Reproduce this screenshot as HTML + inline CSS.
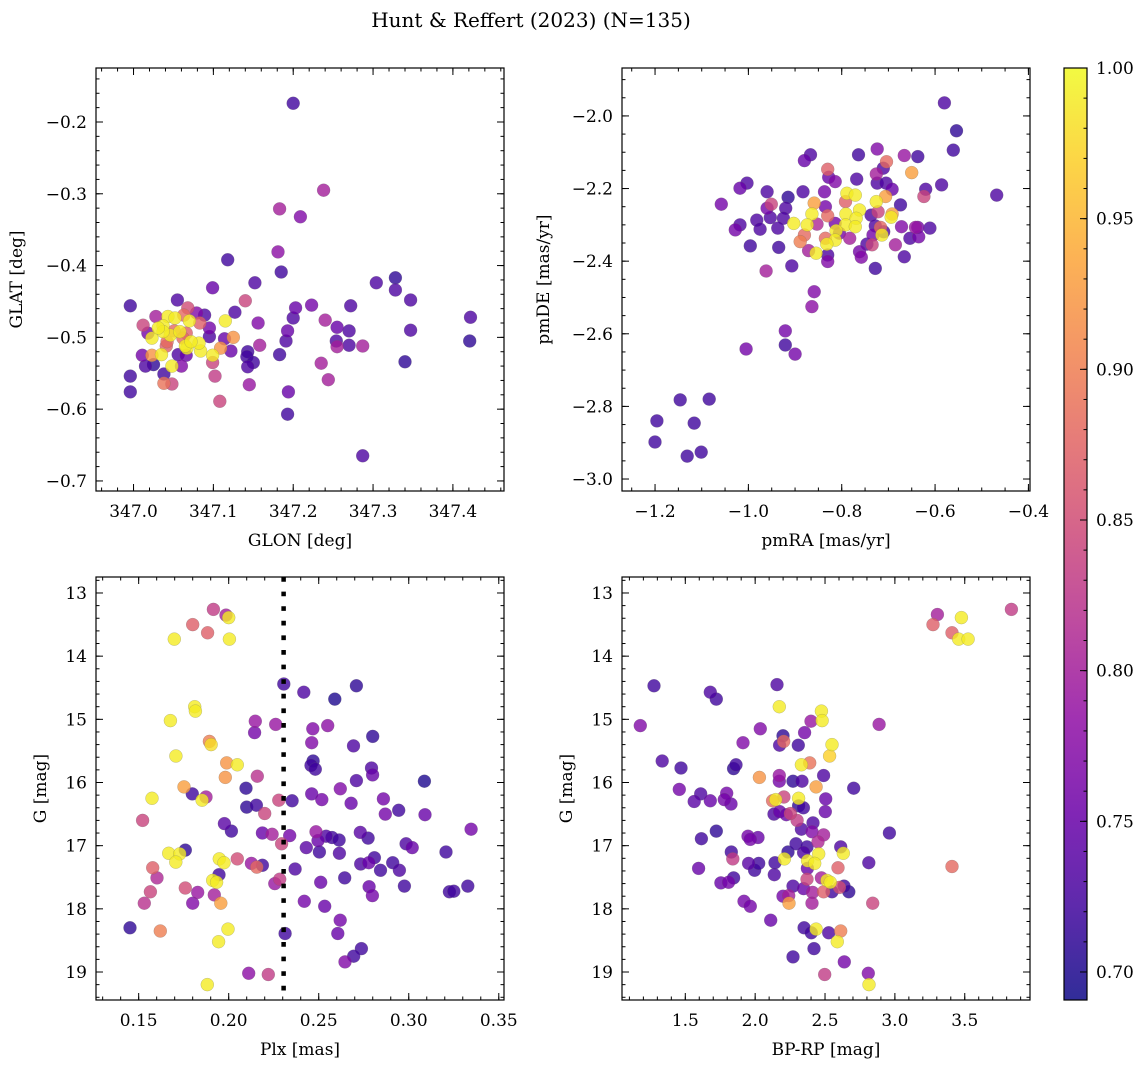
<!DOCTYPE html>
<html><head><meta charset="utf-8"><style>
html,body{margin:0;padding:0;background:#fff}
svg{display:block;font-family:"DejaVu Serif","Liberation Serif",serif}
</style></head><body>
<svg id="fig" width="1148" height="1068" viewBox="0 0 1148 1068" xmlns="http://www.w3.org/2000/svg">
<rect width="1148" height="1068" fill="#fff"/>
<text x="531" y="27" font-size="20" text-anchor="middle">Hunt &amp; Reffert (2023) (N=135)</text>
<defs><linearGradient id="cbgrad" x1="0" y1="1" x2="0" y2="0"></linearGradient></defs>
</svg>
<script>
// ---------- data ----------
const glon1=[347.200,347.183,347.209,347.238,347.181,347.118,347.185,347.152,347.099,347.140,347.055,346.996,347.156,347.127,347.203,347.200,347.193,347.191,347.183,347.158,347.143,347.142,347.143,347.150,347.145,347.194,347.193,347.102,347.108,347.099,347.099,347.109,347.125,347.115,347.122,347.114,346.996,346.996,347.038,347.038,347.048,347.048,347.060,347.015,347.025,347.011,347.023,347.035,347.066,347.084,347.082,347.067,347.056,347.012,347.028,347.023,347.041,347.043,347.052,347.037,347.046,347.058,347.066,347.068,347.063,347.070,347.083,347.089,347.095,347.095,347.079,347.037,347.051,347.062,347.031,347.018,347.042,347.065,347.072,347.223,347.240,347.255,347.254,347.255,347.235,347.244,347.270,347.270,347.272,347.287,347.304,347.328,347.328,347.347,347.347,347.340,347.422,347.421,347.287];
const glat1=[-0.174,-0.321,-0.332,-0.295,-0.381,-0.392,-0.409,-0.424,-0.431,-0.449,-0.448,-0.456,-0.480,-0.465,-0.459,-0.473,-0.491,-0.505,-0.524,-0.511,-0.520,-0.527,-0.541,-0.535,-0.566,-0.576,-0.607,-0.554,-0.589,-0.525,-0.535,-0.515,-0.500,-0.477,-0.519,-0.502,-0.554,-0.576,-0.551,-0.564,-0.565,-0.540,-0.540,-0.540,-0.538,-0.525,-0.525,-0.524,-0.525,-0.519,-0.508,-0.515,-0.524,-0.483,-0.471,-0.501,-0.512,-0.471,-0.473,-0.484,-0.497,-0.492,-0.494,-0.459,-0.469,-0.477,-0.480,-0.469,-0.487,-0.499,-0.466,-0.492,-0.491,-0.501,-0.487,-0.494,-0.506,-0.512,-0.506,-0.455,-0.476,-0.486,-0.505,-0.513,-0.536,-0.559,-0.511,-0.491,-0.456,-0.512,-0.424,-0.417,-0.434,-0.448,-0.490,-0.534,-0.472,-0.505,-0.665];
const prob1=[.72,.80,.77,.80,.78,.72,.72,.73,.75,.84,.73,.72,.77,.73,.75,.73,.75,.73,.72,.80,.72,.72,.73,.72,.79,.75,.72,.83,.84,.99,.84,.92,.92,.99,.75,.75,.72,.72,.72,.89,.84,.99,.77,.73,.71,.76,.92,.99,.75,.99,.99,.99,.73,.84,.80,.99,.87,.99,.99,.99,.99,.99,.87,.85,.88,.99,.87,.73,.76,.73,.77,.99,.88,.88,.99,.76,.88,.99,.99,.76,.80,.75,.73,.80,.80,.80,.73,.73,.73,.80,.73,.71,.73,.73,.73,.71,.73,.71,.73];

const pmra2=[-0.580,-0.554,-0.561,-0.586,-0.468,-0.867,-0.880,-0.764,-0.724,-0.666,-0.637,-0.704,-0.711,-0.726,-0.650,-0.830,-0.828,-0.814,-0.768,-0.724,-0.705,-0.692,-0.706,-0.674,-0.624,-0.620,-1.003,-1.018,-0.960,-0.915,-0.883,-0.837,-0.789,-0.771,-0.792,-0.726,-0.859,-1.058,-0.951,-0.960,-0.920,-0.835,-0.864,-0.830,-0.791,-0.762,-0.769,-0.722,-0.692,-0.694,-0.737,-0.953,-0.925,-0.982,-0.903,-0.874,-0.853,-0.814,-0.792,-0.771,-0.728,-0.717,-0.672,-0.642,-0.637,-0.611,-1.018,-1.028,-0.975,-0.937,-0.812,-0.805,-0.880,-0.889,-0.835,-0.814,-0.832,-0.783,-0.733,-0.714,-0.710,-0.735,-0.746,-0.685,-0.654,-0.635,-0.996,-0.935,-0.871,-0.855,-0.830,-0.830,-0.762,-0.758,-0.666,-0.907,-0.728,-0.962,-0.859,-0.864,-0.921,-0.921,-0.900,-1.005,-1.146,-1.084,-1.196,-1.116,-1.200,-1.131,-1.101];
const pmde2=[-1.964,-2.041,-2.094,-2.190,-2.218,-2.107,-2.123,-2.107,-2.091,-2.109,-2.112,-2.126,-2.144,-2.160,-2.156,-2.147,-2.169,-2.181,-2.174,-2.185,-2.185,-2.202,-2.222,-2.245,-2.222,-2.202,-2.185,-2.199,-2.209,-2.224,-2.209,-2.209,-2.213,-2.218,-2.236,-2.236,-2.240,-2.243,-2.243,-2.254,-2.254,-2.250,-2.270,-2.275,-2.270,-2.259,-2.282,-2.264,-2.270,-2.279,-2.273,-2.280,-2.282,-2.287,-2.296,-2.300,-2.298,-2.296,-2.300,-2.305,-2.303,-2.307,-2.305,-2.307,-2.307,-2.309,-2.300,-2.314,-2.312,-2.309,-2.316,-2.323,-2.328,-2.346,-2.337,-2.342,-2.353,-2.337,-2.328,-2.328,-2.319,-2.355,-2.353,-2.355,-2.337,-2.333,-2.358,-2.362,-2.371,-2.378,-2.383,-2.401,-2.374,-2.389,-2.388,-2.413,-2.420,-2.427,-2.484,-2.525,-2.592,-2.631,-2.656,-2.642,-2.782,-2.780,-2.840,-2.846,-2.898,-2.937,-2.926];
const prob2=[.73,.71,.72,.73,.73,.73,.75,.72,.77,.79,.72,.88,.73,.80,.93,.87,.75,.77,.73,.73,.73,.75,.93,.72,.84,.73,.73,.75,.73,.71,.73,.76,.99,.99,.87,.99,.93,.76,.84,.76,.73,.76,.99,.88,.99,.99,.99,.84,.93,.99,.73,.73,.73,.73,.99,.99,.81,.76,.99,.99,.73,.88,.77,.79,.76,.73,.73,.76,.73,.73,.99,.76,.88,.90,.88,.99,.99,.80,.76,.99,.73,.84,.73,.80,.73,.76,.72,.72,.80,.99,.73,.77,.76,.77,.73,.73,.72,.80,.77,.78,.76,.72,.76,.76,.72,.72,.72,.72,.72,.72,.72];

const plx3=[0.1915,0.1985,0.2000,0.180,0.1883,0.1698,0.2004,0.2306,0.2417,0.2709,0.2589,0.1811,0.1815,0.1676,0.2148,0.2144,0.2261,0.2467,0.255,0.280,0.2461,0.2693,0.1893,0.1902,0.1707,0.1989,0.2048,0.2469,0.2457,0.2481,0.2793,0.2799,0.1981,0.2159,0.2709,0.3087,0.1752,0.1798,0.1874,0.1852,0.2096,0.262,0.2461,0.2517,0.2278,0.2352,0.1574,0.210,0.2154,0.268,0.2859,0.2944,0.287,0.309,0.2200,0.1522,0.1976,0.2015,0.2187,0.2241,0.2339,0.2485,0.2496,0.2541,0.2574,0.2613,0.2731,0.2774,0.3346,0.2294,0.2431,0.2504,0.2615,0.2985,0.3019,0.3207,0.1759,0.1667,0.1728,0.1706,0.1948,0.1974,0.2048,0.2126,0.2187,0.2156,0.1578,0.1602,0.2369,0.2733,0.2778,0.2809,0.2843,0.2911,0.2948,0.1946,0.1911,0.1933,0.2283,0.2256,0.2511,0.2644,0.278,0.2798,0.2976,0.3226,0.325,0.3328,0.1759,0.1828,0.192,0.1565,0.1531,0.18,0.1956,0.242,0.2533,0.1452,0.162,0.1996,0.1944,0.2313,0.2619,0.2606,0.2737,0.2694,0.2646,0.2111,0.222,0.1881];
const gmag3=[13.26,13.35,13.39,13.50,13.63,13.73,13.73,14.44,14.57,14.47,14.68,14.80,14.87,15.02,15.03,15.21,15.08,15.15,15.10,15.27,15.37,15.42,15.35,15.40,15.58,15.69,15.72,15.66,15.73,15.79,15.77,15.88,15.92,15.90,15.97,15.98,16.07,16.18,16.23,16.28,16.09,16.10,16.18,16.27,16.28,16.29,16.25,16.39,16.36,16.33,16.26,16.44,16.50,16.51,16.49,16.60,16.65,16.77,16.80,16.82,16.84,16.78,16.92,16.85,16.87,16.91,16.79,16.88,16.74,16.97,17.03,17.10,17.12,16.97,17.03,17.10,17.07,17.12,17.13,17.26,17.21,17.27,17.21,17.28,17.31,17.34,17.35,17.51,17.37,17.29,17.27,17.19,17.39,17.27,17.39,17.46,17.55,17.58,17.53,17.60,17.58,17.51,17.65,17.79,17.64,17.73,17.72,17.64,17.67,17.74,17.78,17.73,17.91,17.91,17.91,17.88,17.96,18.30,18.35,18.32,18.52,18.39,18.18,18.39,18.63,18.75,18.84,19.02,19.04,19.20];
const prob3=[.83,.80,.99,.87,.87,.99,.99,.72,.73,.71,.70,.99,.99,.99,.79,.76,.79,.77,.78,.71,.77,.73,.90,.98,.99,.92,.99,.71,.72,.72,.73,.75,.92,.82,.73,.70,.93,.72,.80,.99,.71,.77,.75,.76,.84,.72,.99,.71,.72,.75,.76,.72,.76,.75,.84,.84,.74,.72,.75,.80,.76,.79,.75,.73,.72,.72,.74,.72,.76,.84,.74,.72,.73,.73,.75,.72,.71,.99,.99,.99,.99,.99,.85,.79,.72,.88,.87,.81,.73,.73,.75,.72,.72,.72,.73,.72,.99,.99,.83,.79,.75,.72,.75,.76,.72,.72,.72,.72,.85,.79,.80,.84,.82,.77,.93,.76,.75,.71,.90,.99,.99,.72,.76,.75,.72,.72,.77,.78,.83,.99];
const plxCut=0.2305;

const bprp4=[3.304,3.476,3.834,3.273,3.409,3.457,3.524,1.276,2.156,1.679,1.722,2.173,2.474,2.479,1.178,2.40,2.037,2.354,2.887,2.199,2.175,2.204,2.309,1.913,2.55,2.533,2.331,2.39,1.335,1.469,1.846,1.863,2.03,2.173,2.173,2.271,2.335,2.49,2.436,2.705,1.457,1.61,1.564,1.679,1.796,1.779,1.827,2.125,2.147,2.206,2.311,2.311,2.345,2.505,2.502,2.135,2.175,2.223,2.252,2.30,2.414,2.331,2.407,2.49,2.45,2.961,1.615,1.722,1.949,1.965,2.02,2.292,2.235,2.347,2.371,2.455,2.612,2.631,1.829,1.84,1.595,1.953,1.996,2.025,2.142,2.209,2.375,2.426,2.374,2.593,2.813,3.409,2.137,2.371,2.474,2.514,2.538,1.846,1.755,1.81,2.271,2.347,2.411,2.49,2.55,2.603,2.636,2.67,2.199,2.24,2.242,2.407,2.841,1.92,1.965,2.111,2.35,2.402,2.436,2.526,2.612,2.588,2.421,2.271,2.638,2.498,2.81,2.815];
const gmag4=[13.34,13.39,13.26,13.50,13.63,13.73,13.73,14.47,14.45,14.57,14.68,14.80,14.87,15.02,15.10,15.03,15.15,15.21,15.08,15.26,15.41,15.35,15.41,15.37,15.40,15.58,15.72,15.69,15.66,15.77,15.78,15.72,15.92,15.89,15.98,15.98,15.98,15.89,16.07,16.09,16.11,16.18,16.30,16.29,16.17,16.27,16.34,16.29,16.27,16.23,16.25,16.37,16.40,16.26,16.46,16.50,16.46,16.51,16.49,16.60,16.64,16.74,16.78,16.83,16.94,16.80,16.89,16.77,16.85,16.90,16.87,16.97,17.10,17.11,17.02,17.13,17.02,17.12,17.10,17.21,17.36,17.28,17.39,17.28,17.27,17.21,17.24,17.28,17.36,17.35,17.27,17.33,17.46,17.53,17.51,17.55,17.58,17.51,17.59,17.58,17.64,17.68,17.74,17.73,17.73,17.66,17.64,17.73,17.80,17.79,17.91,17.91,17.91,17.88,17.96,18.18,18.30,18.38,18.32,18.38,18.35,18.52,18.63,18.76,18.84,19.04,19.02,19.20];
const prob4=[.80,.99,.83,.87,.87,.99,.99,.72,.73,.73,.72,.99,.99,.99,.77,.79,.77,.76,.79,.71,.73,.88,.72,.77,.99,.97,.99,.89,.73,.72,.71,.72,.92,.79,.76,.71,.73,.73,.93,.72,.76,.73,.74,.75,.76,.76,.75,.88,.99,.84,.99,.71,.72,.75,.75,.73,.75,.75,.84,.83,.73,.73,.77,.80,.81,.72,.72,.71,.76,.76,.75,.72,.71,.73,.72,.99,.73,.99,.72,.83,.75,.74,.72,.72,.72,.99,.99,.99,.75,.87,.73,.88,.73,.84,.80,.99,.99,.72,.75,.76,.73,.75,.80,.87,.72,.85,.72,.71,.76,.80,.93,.80,.84,.76,.76,.75,.72,.72,.99,.73,.90,.99,.72,.72,.76,.83,.77,.99];

const cbTicks=[0.70,0.75,0.80,0.85,0.90,0.95,1.00];
const vmin=0.6907, vmax=1.0;

// ---------- helpers ----------
const NS='http://www.w3.org/2000/svg';
const svg=document.getElementById('fig');
function mk(tag,attrs,parent){const e=document.createElementNS(NS,tag);for(const k in attrs)e.setAttribute(k,attrs[k]);(parent||svg).appendChild(e);return e;}
const stops=[[0,13,8,135],[.1,65,4,157],[.2,106,0,168],[.3,143,13,164],[.4,177,42,144],[.5,204,71,120],[.6,225,100,98],[.7,242,132,75],[.8,252,166,54],[.9,252,206,37],[1,240,249,33]];
function plasma(t){t=Math.max(0,Math.min(1,t));for(let i=1;i<stops.length;i++){if(t<=stops[i][0]){const a=stops[i-1],b=stops[i],f=(t-a[0])/(b[0]-a[0]);return `rgb(${Math.round(a[1]+f*(b[1]-a[1]))},${Math.round(a[2]+f*(b[2]-a[2]))},${Math.round(a[3]+f*(b[3]-a[3]))})`;}}return 'rgb(240,249,33)';}
function fmt(v,d){return (v<0?'\u2212':'')+Math.abs(v).toFixed(d);}
function rng(a,b,s){const r=[];const n=Math.round((b-a)/s);for(let i=0;i<=n;i++)r.push(+(a+i*s).toFixed(6));return r;}

function panel(c){
  const g=mk('g',{});
  
  
  const sx=v=>c.x0+(v-c.xd[0])/(c.xd[1]-c.xd[0])*(c.x1-c.x0);
  const sy=c.yinv?(v=>c.y0+(v-c.yd[0])/(c.yd[1]-c.yd[0])*(c.y1-c.y0)):(v=>c.y1-(v-c.yd[0])/(c.yd[1]-c.yd[0])*(c.y1-c.y0));
  const idx=[];const n=Math.min(c.xs.length,c.ys.length,c.ps.length);for(let i=0;i<n;i++)idx.push(i);
  idx.sort((a,b)=>c.ps[a]-c.ps[b]);
  const pg=mk('g',{},g);
  
  
  idx.forEach(i=>{const t=(c.ps[i]-vmin)/(vmax-vmin);
    const p=mk('circle',{cx:sx(c.xs[i]).toFixed(1),cy:sy(c.ys[i]).toFixed(1),r:6.5,fill:plasma(t),'fill-opacity':0.8,stroke:'#666','stroke-opacity':0.5,'stroke-width':0.4},pg);
    
    });
  if(c.vline!==undefined){const l=mk('line',{x1:sx(c.vline),x2:sx(c.vline),y1:c.y0,y2:c.y1,stroke:'#000','stroke-width':4.5,'stroke-dasharray':'4.7 9.9'},g);
    
    }
  const f=mk('rect',{x:c.x0,y:c.y0,width:c.x1-c.x0,height:c.y1-c.y0,fill:'none',stroke:'#000','stroke-width':1.2},g);
  
  
  const tk=mk('g',{stroke:'#000','stroke-width':1},g);
  c.xminor.forEach(v=>{if(v<c.xd[0]||v>c.xd[1])return;const x=sx(v);mk('line',{x1:x,x2:x,y1:c.y1,y2:c.y1-3.5},tk);mk('line',{x1:x,x2:x,y1:c.y0,y2:c.y0+3.5},tk);});
  c.yminor.forEach(v=>{const lo=Math.min(...c.yd),hi=Math.max(...c.yd);if(v<lo||v>hi)return;const y=sy(v);mk('line',{x1:c.x0,x2:c.x0+3.5,y1:y,y2:y},tk);mk('line',{x1:c.x1,x2:c.x1-3.5,y1:y,y2:y},tk);});
  c.xmajor.forEach(v=>{const x=sx(v);mk('line',{x1:x,x2:x,y1:c.y1,y2:c.y1-7},tk);mk('line',{x1:x,x2:x,y1:c.y0,y2:c.y0+7},tk);
    const t=mk('text',{x:x,y:c.y1+26,'font-size':17,'text-anchor':'middle'},g);t.textContent=fmt(v,c.xdec);
    
    });
  c.ymajor.forEach(v=>{const y=sy(v);mk('line',{x1:c.x0,x2:c.x0+7,y1:y,y2:y},tk);mk('line',{x1:c.x1,x2:c.x1-7,y1:y,y2:y},tk);
    const t=mk('text',{x:c.x0-9,y:y+6,'font-size':17,'text-anchor':'end'},g);t.textContent=fmt(v,c.ydec);
    
    });
  const xl=mk('text',{x:(c.x0+c.x1)/2,y:c.y1+55,'font-size':17,'text-anchor':'middle'},g);xl.textContent=c.xlabel;
  
  
  const yx=c.ylx, yy=(c.y0+c.y1)/2;
  const yl=mk('text',{x:yx,y:yy,'font-size':17,'text-anchor':'middle',transform:`rotate(-90 ${yx} ${yy})`},g);yl.textContent=c.ylabel;
  
  
}

panel({name:'glon-glat-panel',x0:96,x1:504,y0:68,y1:491,xd:[346.953,347.464],yd:[-0.714,-0.1248],xs:glon1,ys:glat1,ps:prob1,
  xmajor:rng(347.0,347.4,0.1),xminor:rng(346.96,347.46,0.02),ymajor:rng(-0.7,-0.2,0.1),yminor:rng(-0.72,-0.12,0.02),xdec:1,ydec:1,xlabel:'GLON [deg]',ylabel:'GLAT [deg]',ylx:22});
panel({name:'proper-motion-panel',x0:622,x1:1030,y0:68,y1:491,xd:[-1.2708,-0.3966],yd:[-3.033,-1.868],xs:pmra2,ys:pmde2,ps:prob2,
  xmajor:rng(-1.2,-0.4,0.2),xminor:rng(-1.25,-0.4,0.05),ymajor:rng(-3.0,-2.0,0.2),yminor:rng(-3.0,-1.9,0.05),xdec:1,ydec:1,xlabel:'pmRA [mas/yr]',ylabel:'pmDE [mas/yr]',ylx:549});
panel({name:'parallax-magnitude-panel',x0:96,x1:504,y0:577,y1:1000,xd:[0.1263,0.3529],yd:[12.747,19.443],yinv:true,xs:plx3,ys:gmag3,ps:prob3,vline:plxCut,
  xmajor:rng(0.15,0.35,0.05),xminor:rng(0.13,0.35,0.01),ymajor:rng(13,19,1),yminor:rng(12.8,19.4,0.2),xdec:2,ydec:0,xlabel:'Plx [mas]',ylabel:'G [mag]',ylx:46});
panel({name:'color-magnitude-panel',x0:622,x1:1030,y0:577,y1:1000,xd:[1.047,3.967],yd:[12.747,19.443],yinv:true,xs:bprp4,ys:gmag4,ps:prob4,
  xmajor:rng(1.5,3.5,0.5),xminor:rng(1.1,3.9,0.1),ymajor:rng(13,19,1),yminor:rng(12.8,19.4,0.2),xdec:1,ydec:0,xlabel:'BP-RP [mag]',ylabel:'G [mag]',ylx:572});

// colorbar
(function(){
  const grad=document.getElementById('cbgrad');
  for(let i=0;i<=20;i++){const t=i/20;mk('stop',{offset:t,'stop-color':plasma(t),'stop-opacity':0.85},grad);}
  const x0=1064,x1=1087,y0=68,y1=1000;
  const g=mk('g',{});
  
  
  mk('rect',{x:x0,y:y0,width:x1-x0,height:y1-y0,fill:'url(#cbgrad)',stroke:'#000','stroke-width':1.2},g);
  const sy=v=>y1-(v-vmin)/(vmax-vmin)*(y1-y0);
  for(let v=0.70;v<=1.0001;v+=0.01){const y=sy(v);mk('line',{x1:x1,x2:x1-3.5,y1:y,y2:y,stroke:'#000','stroke-width':1},g);}
  cbTicks.forEach(v=>{const y=sy(v);mk('line',{x1:x1,x2:x1-7,y1:y,y2:y,stroke:'#000','stroke-width':1},g);
    const t=mk('text',{x:x1+9,y:y+6,'font-size':17},g);t.textContent=v.toFixed(2);
    
    });
})();
</script>
</body></html>
